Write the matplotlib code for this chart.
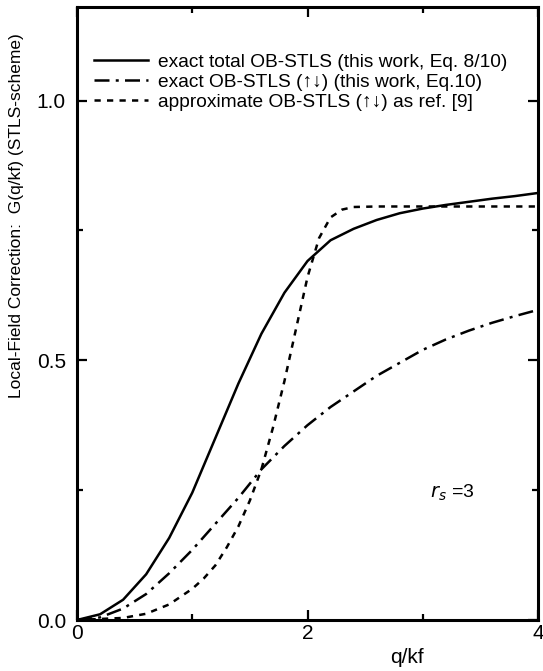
import numpy as np
import matplotlib.pyplot as plt
from matplotlib.ticker import MultipleLocator

plt.rcParams['font.family'] = ['Liberation Sans', 'DejaVu Sans']

#   Данные
q = [0, 0.2, 0.4, 0.6, 0.8, 1.0, 1.2, 1.4, 1.6, 1.8, 2.0, 2.2, 2.4, 2.6, 2.8, 3.0, 3.2, 3.4, 3.6, 3.8, 4.0]
g_total = [0, 0.011, 0.039, 0.088, 0.158, 0.245, 0.35, 0.455, 0.551, 0.63, 0.691, 0.731, 0.753, 0.77, 0.783, 0.792,
           0.799, 0.805, 0.811, 0.816, 0.822]
g_updown = [0, 0.005, 0.022, 0.05, 0.09, 0.135, 0.185, 0.235, 0.29, 0.335, 0.375, 0.41, 0.44, 0.47, 0.495, 0.52,
            0.54, 0.557, 0.572, 0.585, 0.597]
q_apx = [0, 0.4, 0.6, 0.8, 1.0, 1.1, 1.2, 1.3, 1.4, 1.5, 1.6, 1.7, 1.8, 1.9, 2.0, 2.1, 2.2, 2.3, 2.4, 2.6, 3.0, 4.0]
g_apx = [0, 0.004, 0.012, 0.03, 0.06, 0.08, 0.105, 0.14, 0.18, 0.23, 0.29, 0.37, 0.46, 0.56, 0.66, 0.735, 0.775, 0.79,
         0.795, 0.796, 0.796, 0.796]

labels = ["exact total OB-STLS (this work, Eq. 8/10)",
          "exact OB-STLS (\u2191\u2193) (this work, Eq.10)",
          "approximate OB-STLS (\u2191\u2193) as ref. [9]"]

fig = plt.figure(figsize=(5.43, 6.71), dpi=100)
ax = fig.add_axes([77 / 543, 51 / 671, 461 / 543, 613 / 671])

lw = 1.8
ax.plot(q, g_total, color='black', linewidth=lw, linestyle='-', label=labels[0])
ax.plot(q, g_updown, color='black', linewidth=lw, linestyle=(0, (6, 2.5, 1.2, 2.5)), label=labels[1])
ax.plot(q_apx, g_apx, color='black', linewidth=lw, linestyle=(0, (2.5, 2.5)), label=labels[2])

ax.set_xlim(0, 4)
ax.set_ylim(0, 1.18)
ax.xaxis.set_major_locator(MultipleLocator(2))
ax.xaxis.set_minor_locator(MultipleLocator(1))
ax.yaxis.set_major_locator(MultipleLocator(0.5))
ax.yaxis.set_minor_locator(MultipleLocator(0.25))
ax.xaxis.set_major_formatter(plt.FuncFormatter(lambda v, p: "%d" % v))
ax.yaxis.set_major_formatter(plt.FuncFormatter(lambda v, p: "%.1f" % v))
ax.tick_params(which='both', direction='in', top=True, right=True, width=1.6, labelsize=15)
ax.tick_params(which='major', length=7)
ax.tick_params(which='minor', length=4)
ax.tick_params(axis='x', which='major', pad=3)
ax.tick_params(axis='y', which='major', pad=8)
for s in ax.spines.values():
    s.set_linewidth(2.2)

ax.set_ylabel("Local-Field Correction:  G(q/kf) (STLS-scheme)", fontsize=12.5)
ax.yaxis.set_label_coords(-0.115, 0.66)
ax.set_xlabel("q/kf", fontsize=15)
ax.xaxis.set_label_coords(0.715, -0.045)

ax.text(3.06, 0.236, r"$r_s$ =3", fontsize=14)

ax.legend(loc='upper left', bbox_to_anchor=(0.0, 0.952), frameon=False, fontsize=13.8, handlelength=2.8,
          handletextpad=0.55, labelspacing=0.12)

plt.savefig("out.png", dpi=100)
